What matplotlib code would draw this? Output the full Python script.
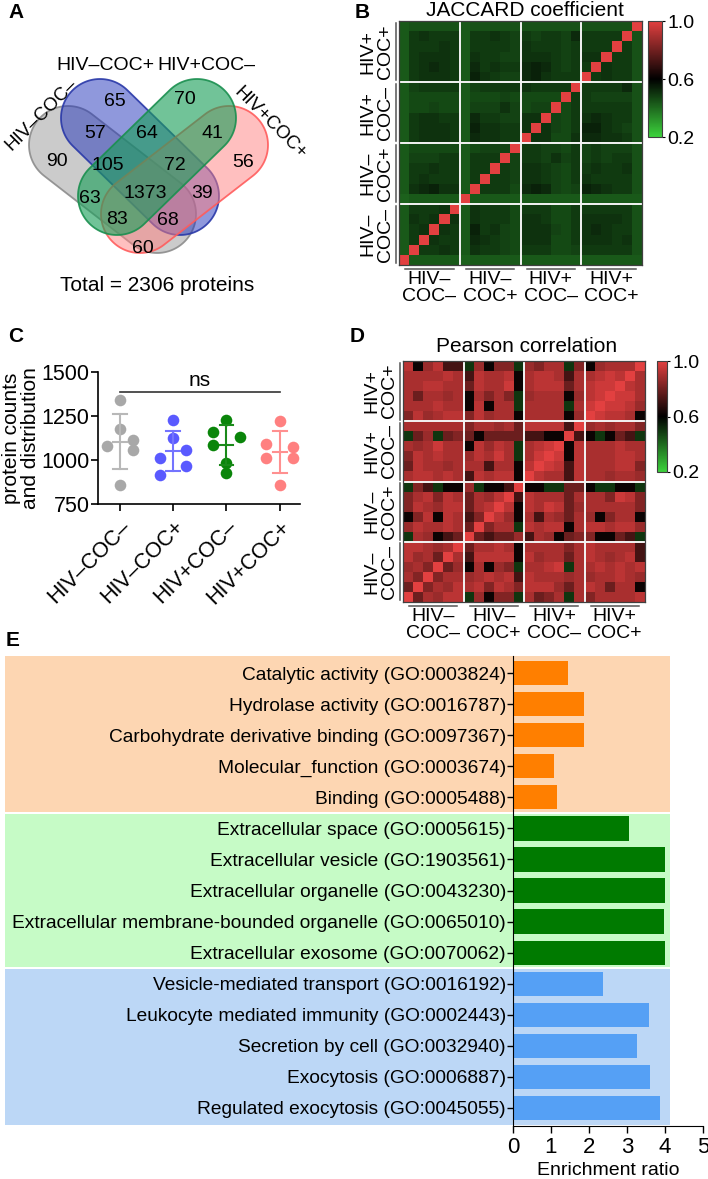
import numpy as np
import matplotlib
matplotlib.use("Agg")
import matplotlib.pyplot as plt
from matplotlib.colors import LinearSegmentedColormap
from matplotlib.patches import Polygon, Rectangle
import matplotlib.transforms as mtransforms

plt.rcParams['font.family'] = ['Liberation Sans', 'DejaVu Sans']

# ---------------- DATA ----------------
groups = ['HIV–COC–', 'HIV–COC+', 'HIV+COC–', 'HIV+COC+']
heat_groups = ['HIV–\nCOC–', 'HIV–\nCOC+', 'HIV+\nCOC–', 'HIV+\nCOC+']

# Venn (A) region counts
venn_regions = ['2', '3', '12', '23', '34', '1', '123', '234', '4', '13', '1234', '24', '134', '124', '14']
venn_counts = [65, 70, 57, 64, 41, 90, 105, 72, 56, 63, 1373, 39, 83, 68, 60]
venn_total = 2306

# Scatter (C): protein counts per sample
counts_hiv_neg_coc_neg = [1339, 1177, 1077, 1113, 1054, 860]
counts_hiv_neg_coc_pos = [1228, 1124, 1010, 1058, 966, 915]
counts_hiv_pos_coc_neg = [1228, 1158, 1128, 1086, 985, 925]
counts_hiv_pos_coc_pos = [1219, 1090, 1073, 1010, 1010, 858]

# Heatmaps (B, D): lower triangles, one digit level per cell
jaccard_levels = [
    "2", "26", "267", "2767", "26667", "122222", "2789772", "26766626",
    "266766266", "2555662666", "24444424555", "267776287766",
    "2677762977667", "26776628665577", "244544255575455",
    "2444442444544444", "25666625666676666", "267776297655897666",
    "2678762867668986566", "26777627665577765677",
    "266676266665766656666", "2676662667656566586666",
    "23333323333333333333333",
]
jaccard_level_values = [0.40, 0.415, 0.43, 0.445, 0.46, 0.475, 0.49, 0.505, 0.52, 0.535]

pearson_levels = [
    "3", "64", "564", "7563", "77656", "065123", "5766763", "14717624",
    "476577367", "4674763657", "04201150112", "677676276771",
    "3766566626617", "47676657686068", "656866175760678",
    "0350343133332211", "66666646656377772", "475677475661666615",
    "6667661716606666068", "63665616464056661578",
    "667766376681677736788", "6666762766716776266787",
    "71572205144054660415666",
]
pearson_level_values = [0.50, 0.62, 0.72, 0.79, 0.83, 0.87, 0.90, 0.93, 0.96, 1.0]

# GO enrichment (E)
go_terms = [
    'Catalytic activity (GO:0003824)',
    'Hydrolase activity (GO:0016787)',
    'Carbohydrate derivative binding (GO:0097367)',
    'Molecular_function (GO:0003674)',
    'Binding (GO:0005488)',
    'Extracellular space (GO:0005615)',
    'Extracellular vesicle (GO:1903561)',
    'Extracellular organelle (GO:0043230)',
    'Extracellular membrane-bounded organelle (GO:0065010)',
    'Extracellular exosome (GO:0070062)',
    'Vesicle-mediated transport (GO:0016192)',
    'Leukocyte mediated immunity (GO:0002443)',
    'Secretion by cell (GO:0032940)',
    'Exocytosis (GO:0006887)',
    'Regulated exocytosis (GO:0045055)',
]
enrichment_ratio = [1.45, 1.87, 1.87, 1.08, 1.15, 3.05, 3.99, 3.99, 3.98, 4.0,
                    2.37, 3.57, 3.26, 3.61, 3.87]
go_category = [0] * 5 + [1] * 5 + [2] * 5

# ---------------- FIGURE ----------------
W, H = 708, 1179
fig = plt.figure(figsize=(W / 100, H / 100), dpi=100)


def px_axes(x0, y0, x1, y1, **kw):
    return fig.add_axes([x0 / W, 1 - y1 / H, (x1 - x0) / W, (y1 - y0) / H], **kw)


def ftext(x, y, s, **kw):
    return fig.text(x / W, 1 - y / H, s, **kw)


FS = 14

# panel letters
for lab, (x, y) in zip('ABCDE', [(8, 13), (355, 13), (8, 337), (350, 337), (6, 641)]):
    ftext(x, y, lab, fontsize=15, fontweight='bold', ha='left', va='center')

# ---------------- A: Venn ----------------
axA = px_axes(0, 0, 354, 300)
axA.set_xlim(0, 354)
axA.set_ylim(300, 0)
axA.axis('off')


def stadium(c1, c2, r, n=60):
    c1 = np.asarray(c1, float)
    c2 = np.asarray(c2, float)
    d = c2 - c1
    a = np.arctan2(d[1], d[0])
    t2 = np.linspace(a - np.pi / 2, a + np.pi / 2, n)
    t1 = np.linspace(a + np.pi / 2, a + 3 * np.pi / 2, n)
    p2 = np.c_[c2[0] + r * np.cos(t2), c2[1] + r * np.sin(t2)]
    p1 = np.c_[c1[0] + r * np.cos(t1), c1[1] + r * np.sin(t1)]
    return np.vstack([p2, p1])


R = 39
shapes = {
    'gray': ((68, 145), (157, 214), (0.6, 0.6, 0.6, 0.5), (0.55, 0.55, 0.55, 0.9)),
    'blue': ((100, 118), (180, 196), (0.13, 0.2, 0.73, 0.5), (0.16, 0.22, 0.66, 0.9)),
    'red': ((229, 145), (140, 214), (1.0, 0.5, 0.5, 0.5), (1.0, 0.36, 0.36, 0.9)),
    'green': ((197, 118), (117, 196), (0.10, 0.62, 0.35, 0.62), (0.10, 0.56, 0.31, 0.9)),
}
for name in ['gray', 'blue', 'red', 'green']:
    c1, c2, fc, ec = shapes[name]
    axA.add_patch(Polygon(stadium(c1, c2, R), closed=True, facecolor=fc,
                          edgecolor=ec, lw=1.3))

venn_pos = {'2': (115, 102), '3': (185, 100), '12': (95, 133), '23': (147, 133),
            '34': (212, 133), '1': (57, 161), '123': (108, 165), '234': (175, 165),
            '4': (243, 162), '13': (90, 198), '1234': (145, 193), '24': (202, 193),
            '134': (117, 219), '124': (168, 220), '14': (143, 248)}
for reg, cnt in zip(venn_regions, venn_counts):
    x, y = venn_pos[reg]
    axA.text(x, y, str(cnt), fontsize=FS, ha='center', va='center')

axA.text(105, 66, groups[1], fontsize=FS, ha='center', va='center')
axA.text(206, 66, groups[2], fontsize=FS, ha='center', va='center')
axA.text(41, 115, groups[0], fontsize=FS - 0.5, ha='center', va='center', rotation=45)
axA.text(270, 123, groups[3], fontsize=FS - 0.5, ha='center', va='center', rotation=-45)
axA.text(157, 285, f'Total = {venn_total} proteins', fontsize=FS + 1,
         ha='center', va='center')

# ---------------- B & D: heatmaps ----------------
cmap = LinearSegmentedColormap.from_list('gkr', ['#3cd23c', '#000000', '#e24040'])


def build_matrix(levels, level_values):
    n = len(levels) + 1
    M = np.eye(n)
    for i, row in enumerate(levels, start=1):
        for j, ch in enumerate(row):
            M[i, j] = M[j, i] = level_values[int(ch)]
    return M


def heatmap(rect, cb_rect, M, title, title_xy):
    ax = px_axes(*rect)
    im = ax.imshow(M, cmap=cmap, vmin=0.2, vmax=1.0, origin='lower', aspect='auto',
                   interpolation='nearest', extent=(-0.5, 23.5, -0.5, 23.5))
    for b in [5.5, 11.5, 17.5]:
        ax.axhline(b, color='#f4f4f4', lw=1.4)
        ax.axvline(b, color='#f4f4f4', lw=1.4)
    ax.set_xticks([])
    ax.set_yticks([])
    for sp in ax.spines.values():
        sp.set_color('#404040')
        sp.set_linewidth(0.9)
    ty = mtransforms.blended_transform_factory(ax.transAxes, ax.transData)
    tx = mtransforms.blended_transform_factory(ax.transData, ax.transAxes)
    axw = rect[2] - rect[0]
    axh = rect[3] - rect[1]
    for g, lab in enumerate(heat_groups):
        lo, hi = 6 * g - 0.5, 6 * g + 5.5
        ax.plot([-3 / axw] * 2, [lo + 0.15, hi - 0.15], transform=ty, color='#555555',
                lw=1.1, clip_on=False)
        ax.text(-22 / axw, (lo + hi) / 2, lab, transform=ty, rotation=90, ha='center',
                va='center', fontsize=FS, linespacing=1.05)
        ax.plot([lo + 0.6, hi - 0.6], [-3.5 / axh] * 2, transform=tx, color='#555555',
                lw=1.1, clip_on=False)
        ax.text((lo + hi) / 2, -6 / axh, lab, transform=tx, ha='center', va='top',
                fontsize=FS, linespacing=1.0)
    ftext(title_xy[0], title_xy[1], title, fontsize=FS + 1, ha='center', va='center')
    cax = px_axes(*cb_rect)
    cb = fig.colorbar(im, cax=cax, ticks=[0.2, 0.6, 1.0])
    cb.set_ticklabels(['0.2', '0.6', '1.0'])
    cb.ax.tick_params(labelsize=FS, length=2.5, width=0.8, pad=1.5)
    cb.outline.set_linewidth(0.8)
    cb.outline.set_edgecolor('#404040')


heatmap((399, 21, 642, 265), (648, 21, 662, 137),
        build_matrix(jaccard_levels, jaccard_level_values), 'JACCARD coefficient', (525, 11))
heatmap((403, 361, 645, 602), (657, 361, 667, 472),
        build_matrix(pearson_levels, pearson_level_values), 'Pearson correlation', (527, 347))

# ---------------- C: scatter ----------------
axC = px_axes(98, 372, 300, 504)
scatter_sets = [counts_hiv_neg_coc_neg, counts_hiv_neg_coc_pos,
                counts_hiv_pos_coc_neg, counts_hiv_pos_coc_pos]
dot_offsets = [[0, 0, -0.25, 0.25, 0.25, 0],
               [0, 0, -0.25, 0.25, 0.25, -0.25],
               [0, -0.25, 0.25, -0.25, 0, 0],
               [0, -0.25, 0.25, -0.25, 0.25, 0]]
dot_colors = ['#a8a8a8', '#5a5aff', '#0a850a', '#ff8080']
bar_colors = ['#b8b8b8', '#7474ff', '#1a8a1a', '#ff9090']
for i, vals in enumerate(scatter_sets):
    vals = np.asarray(vals, float)
    xs = i + np.asarray(dot_offsets[i])
    axC.scatter(xs, vals, s=70, color=dot_colors[i], zorder=3, linewidths=0)
    m, sd = vals.mean(), vals.std(ddof=1)
    hw = 0.13
    axC.plot([i, i], [m - sd, m + sd], color=bar_colors[i], lw=1.5, zorder=4)
    for yv in (m - sd, m, m + sd):
        axC.plot([i - hw, i + hw], [yv, yv], color=bar_colors[i], lw=1.5, zorder=4)
axC.plot([0, 3], [1386, 1386], color='#333333', lw=1.2)
axC.text(1.5, 1400, 'ns', fontsize=FS + 1, ha='center', va='bottom')
axC.set_xlim(-0.41, 3.38)
axC.set_ylim(750, 1500)
axC.set_yticks([750, 1000, 1250, 1500])
axC.set_xticks(range(4))
axC.set_xticklabels(groups, rotation=45, ha='right', va='top', rotation_mode='anchor')
axC.tick_params(labelsize=FS + 1.5, length=5, width=1.2, pad=1)
axC.tick_params(axis='x', pad=4)
for s in ['top', 'right']:
    axC.spines[s].set_visible(False)
for s in ['left', 'bottom']:
    axC.spines[s].set_linewidth(1.2)
axC.set_ylabel('protein counts\nand distribution', fontsize=FS + 1, linespacing=1.0,
               labelpad=1)

# ---------------- E: GO enrichment ----------------
axE = px_axes(513, 656, 703, 1126)
bar_fill = ['#ff7f00', '#007a00', '#55a0f5']
bg_fill = ['#fdd6b2', '#c6fbc6', '#bcd7f6']
ypos = np.arange(len(go_terms))
axE.barh(ypos, enrichment_ratio, height=0.78,
         color=[bar_fill[c] for c in go_category], zorder=2)
tb = mtransforms.blended_transform_factory(fig.transFigure, axE.transData)
for c in range(3):
    rows = [i for i, g in enumerate(go_category) if g == c]
    y0 = rows[0] - 0.5 + (0.04 if c > 0 else -0.05)
    y1 = rows[-1] + 0.5 - (0.04 if c < 2 else -0.05)
    axE.add_patch(Rectangle((5 / W, y0), 665 / W, y1 - y0, transform=tb,
                            facecolor=bg_fill[c], edgecolor='none', zorder=0,
                            clip_on=False))
axE.set_ylim(14.58, -0.55)
axE.set_xlim(0, 5)
axE.set_yticks(ypos)
axE.set_yticklabels(go_terms)
axE.set_xticks(range(6))
axE.tick_params(axis='y', labelsize=13.8, length=4, width=1, pad=1)
axE.tick_params(axis='x', labelsize=FS + 2, length=5, width=1, pad=3)
for s in ['top', 'right']:
    axE.spines[s].set_visible(False)
axE.patch.set_alpha(0)
axE.set_xlabel('Enrichment ratio', fontsize=FS, labelpad=3)

fig.savefig('out.png', dpi=100)
